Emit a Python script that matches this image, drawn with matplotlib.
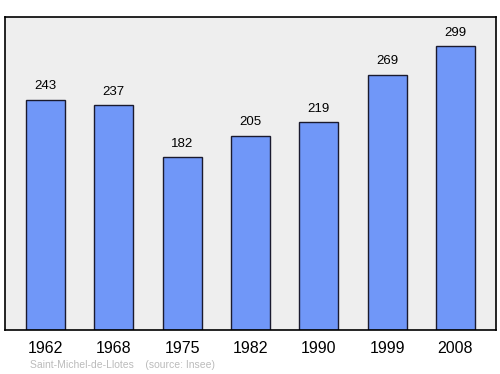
import matplotlib
matplotlib.use('Agg')
import matplotlib.pyplot as plt

years = ['1962', '1968', '1975', '1982', '1990', '1999', '2008']
population = [243, 237, 182, 205, 219, 269, 299]

fig = plt.figure(figsize=(5, 3.74), dpi=100)
ax = fig.add_axes([5 / 500, 1 - 330 / 374, 491 / 500, 313 / 374])
ax.set_facecolor('#eeeeee')

x = range(len(years))
ax.bar(x, population, width=0.57, color='#7097f8', edgecolor='#1a1a2e', linewidth=1)
for xi, v in zip(x, population):
    ax.text(xi, v + 8, str(v), ha='center', va='bottom', fontsize=9.5, family='Liberation Sans')

ax.set_xlim(-0.593, 6.593)
ax.set_ylim(0, 330)
ax.set_yticks([])
ax.set_xticks(list(x))
ax.set_xticklabels(years, fontsize=11.5, family='Liberation Sans')
ax.tick_params(axis='x', length=0, pad=8)
for s in ax.spines.values():
    s.set_linewidth(1.2)

fig.text(30 / 500, 1 - 365 / 374, 'Saint-Michel-de-Llotes    (source: Insee)',
         fontsize=7.5, color='#bbbbbb', family='Liberation Sans', va='center')

fig.savefig('out.png', dpi=100)
